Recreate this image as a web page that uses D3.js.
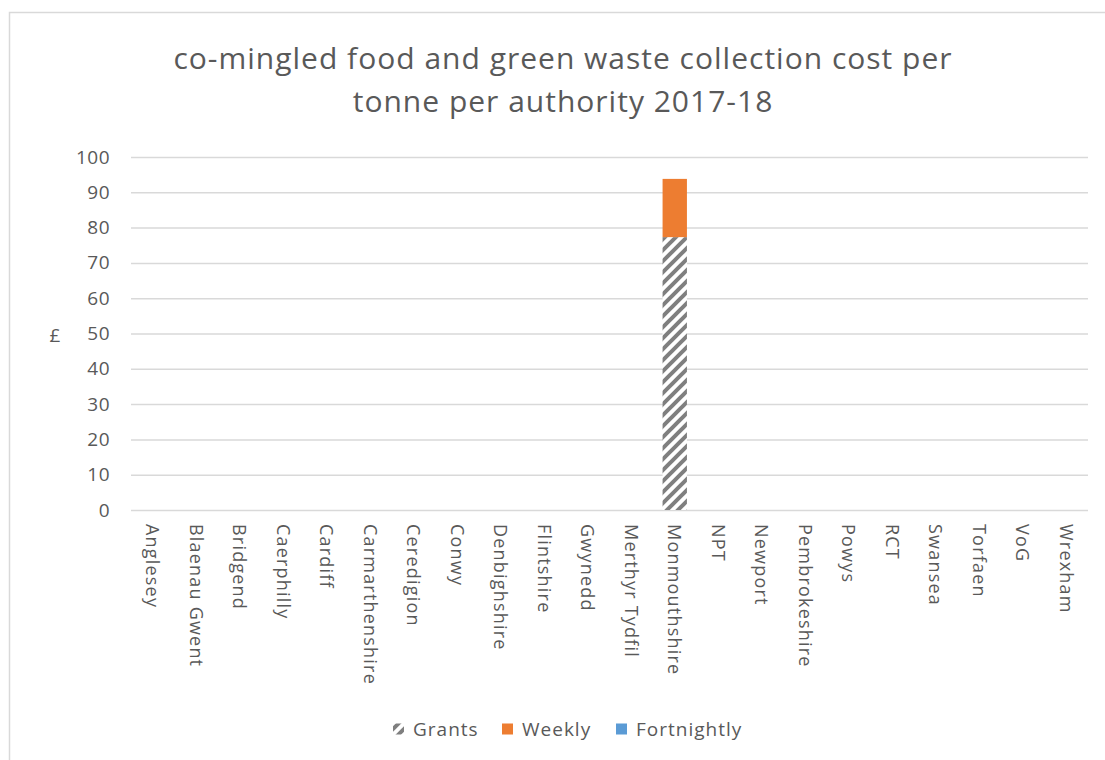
<!DOCTYPE html>
<html>
<head>
<meta charset="utf-8">
<script src="https://cdn.jsdelivr.net/npm/d3@7"></script>
<style>
  html, body { margin: 0; padding: 0; background: #fff; }
  svg { display: block; }
  text { font-family: "Open Sans", "Noto Sans", sans-serif; fill: #595959; }
</style>
</head>
<body>
<svg id="chart" width="1105" height="760"></svg>
<script>
// Welsh local authorities
const authorities = ["Anglesey", "Blaenau Gwent", "Bridgend", "Caerphilly", "Cardiff",
  "Carmarthenshire", "Ceredigion", "Conwy", "Denbighshire", "Flintshire", "Gwynedd",
  "Merthyr Tydfil", "Monmouthshire", "NPT", "Newport", "Pembrokeshire", "Powys", "RCT",
  "Swansea", "Torfaen", "VoG", "Wrexham"];

// £ per tonne, stacked in this order
const grants      = [0, 0, 0, 0, 0, 0, 0, 0, 0, 0, 0, 0, 77.3, 0, 0, 0, 0, 0, 0, 0, 0, 0];
const weekly      = [0, 0, 0, 0, 0, 0, 0, 0, 0, 0, 0, 0, 16.5, 0, 0, 0, 0, 0, 0, 0, 0, 0];
const fortnightly = [0, 0, 0, 0, 0, 0, 0, 0, 0, 0, 0, 0, 0, 0, 0, 0, 0, 0, 0, 0, 0, 0];

const yTicks = [0, 10, 20, 30, 40, 50, 60, 70, 80, 90, 100];
const seriesNames = ["Grants", "Weekly", "Fortnightly"];
const titleLines = ["co-mingled food and green waste collection cost per", "tonne per authority 2017-18"];

const svg = d3.select("#chart");

// hatch fill for the Grants series
const defs = svg.append("defs");
const pat = defs.append("pattern")
  .attr("id", "hatch")
  .attr("patternUnits", "userSpaceOnUse")
  .attr("width", 11).attr("height", 11);
pat.append("rect").attr("width", 11).attr("height", 11).attr("fill", "#fff");
pat.append("path")
  .attr("d", "M-2,13 L13,-2 M-2,2 L2,-2 M9,13 L13,9")
  .attr("stroke", "#7f7f7f").attr("stroke-width", 4);

const fills = { Grants: "url(#hatch)", Weekly: "#ed7d31", Fortnightly: "#5b9bd5" };

// chart area frame
svg.append("rect")
  .attr("x", 9.5).attr("y", 12.5)
  .attr("width", 1120).attr("height", 780)
  .attr("fill", "#fff").attr("stroke", "#d9d9d9").attr("stroke-width", 1.5);

// title
svg.append("text")
  .attr("x", 563).attr("y", 69)
  .attr("text-anchor", "middle")
  .style("font-size", "30px")
  .style("letter-spacing", "1px")
  .selectAll("tspan").data(titleLines).join("tspan")
  .attr("x", 563)
  .attr("dy", (d, i) => i === 0 ? 0 : 43)
  .text(d => d);

const plot = { left: 131, right: 1088, top: 157, bottom: 510 };

const x = d3.scaleBand()
  .domain(authorities)
  .range([plot.left, plot.right])
  .paddingInner(0.44)
  .paddingOuter(0.22);

const y = d3.scaleLinear()
  .domain([0, 100])
  .range([plot.bottom, plot.top]);

// gridlines + y labels
const yAxis = d3.axisLeft(y)
  .tickValues(yTicks)
  .tickSize(-(plot.right - plot.left))
  .tickPadding(21);

const gy = svg.append("g")
  .attr("transform", `translate(${plot.left},0)`)
  .call(yAxis);
gy.select(".domain").remove();
gy.selectAll(".tick line").attr("stroke", "#d9d9d9").attr("stroke-width", 1.5);
gy.selectAll(".tick text")
  .style("font-size", "19px")
  .style("letter-spacing", "0.5px")
  .style("fill", "#595959")
  .style("font-family", '"Open Sans", sans-serif');

// y axis title
svg.append("text")
  .attr("x", 55).attr("y", 335)
  .attr("text-anchor", "middle")
  .attr("dominant-baseline", "central")
  .style("font-size", "19px")
  .text("£");

// stacked bars
const rows = authorities.map((a, i) => ({
  name: a, Grants: grants[i], Weekly: weekly[i], Fortnightly: fortnightly[i]
}));
const stacked = d3.stack().keys(seriesNames)(rows);

svg.append("g")
  .selectAll("g")
  .data(stacked)
  .join("g")
  .attr("fill", d => fills[d.key])
  .selectAll("rect")
  .data(d => d.filter(s => s[1] > s[0]))
  .join("rect")
  .attr("x", d => x(d.data.name))
  .attr("width", x.bandwidth())
  .attr("y", d => y(d[1]))
  .attr("height", d => y(d[0]) - y(d[1]));

// category labels, rotated to read downward
const gx = svg.append("g")
  .attr("transform", `translate(0,${plot.bottom})`)
  .call(d3.axisBottom(x).tickSize(0).tickPadding(0));
gx.select(".domain").remove();
gx.selectAll(".tick text")
  .attr("transform", "rotate(90)")
  .attr("x", 14).attr("y", 0)
  .attr("dy", "0.35em")
  .attr("text-anchor", "start")
  .style("font-size", "18px")
  .style("letter-spacing", "1.2px")
  .style("fill", "#595959")
  .style("font-family", '"Open Sans", sans-serif');

// legend
const legendItems = [
  { name: "Grants", sx: 393 },
  { name: "Weekly", sx: 502 },
  { name: "Fortnightly", sx: 616 }
];
const lg = svg.append("g").selectAll("g").data(legendItems).join("g")
  .attr("transform", d => `translate(${d.sx},729)`);
lg.append("rect")
  .attr("x", 0).attr("y", -5.5)
  .attr("width", 11).attr("height", 11)
  .attr("fill", d => fills[d.name]);
lg.append("text")
  .attr("x", 20).attr("y", 0)
  .attr("dominant-baseline", "central")
  .style("font-size", "19px")
  .style("letter-spacing", "1px")
  .text(d => d.name);
</script>
</body>
</html>
